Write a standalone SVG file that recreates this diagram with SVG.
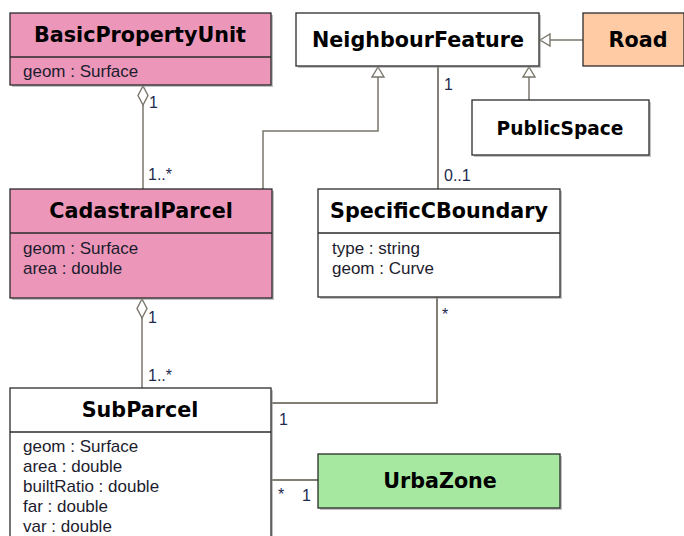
<svg xmlns="http://www.w3.org/2000/svg" width="684" height="536" viewBox="0 0 684 536">
<style>
.box{stroke:#2b2b2b;stroke-width:1.3}
.sh{fill:#9a9a9a;opacity:0.6}
.t{font-family:"DejaVu Sans",Verdana,sans-serif;font-weight:bold;font-size:20.7px;fill:#000;text-anchor:middle}
.a{font-family:"Liberation Sans",Arial,sans-serif;font-size:17px;fill:#1c1c2e}
.m{font-family:"Liberation Sans",Arial,sans-serif;font-size:16px;fill:#1c2a50}
.c{fill:none;stroke:#7a766c;stroke-width:1.5}
</style>
<rect width="684" height="536" fill="#fff"/>
<g id="connectors">
  <polyline class="c" points="143,105 143,189"/>
  <polygon points="143,86 148,95.5 143,105 138,95.5" fill="#fff" stroke="#7a766c" stroke-width="1.4"/>
  <polyline class="c" points="142,318 142,388"/>
  <polygon points="142,299 147,308.5 142,318 137,308.5" fill="#fff" stroke="#7a766c" stroke-width="1.4"/>
  <polyline class="c" points="263,189 263,131 378,131 378,77"/>
  <polygon points="378,67 384,77 372,77" fill="#fff" stroke="#7a766c" stroke-width="1.4"/>
  <polyline class="c" points="583,40 550,40"/>
  <polygon points="540,40 550,34 550,46" fill="#fff" stroke="#7a766c" stroke-width="1.4"/>
  <polyline class="c" points="529,100 529,77"/>
  <polygon points="529,67 535,77 523,77" fill="#fff" stroke="#7a766c" stroke-width="1.4"/>
  <polyline class="c" points="438,66 438,189" style="stroke:#5a5448"/>
  <polyline class="c" points="437,297 437,403 272,403" style="stroke:#5a5448"/>
  <polyline class="c" points="272,480 318,480" style="stroke:#5a5448"/>
  <text class="m" x="149" y="108">1</text>
  <text class="m" x="148" y="180">1..*</text>
  <text class="m" x="148" y="323">1</text>
  <text class="m" x="148" y="381">1..*</text>
  <text class="m" x="444" y="90">1</text>
  <text class="m" x="444" y="181">0..1</text>
  <text class="m" x="442" y="320">*</text>
  <text class="m" x="279" y="425">1</text>
  <text class="m" x="278" y="500">*</text>
  <text class="m" x="302" y="501">1</text>
</g>
<g id="BasicPropertyUnit">
  <rect class="sh" x="12" y="15" width="261" height="72"/>
  <rect class="box" x="10" y="13" width="261" height="72" fill="#EC97BA"/>
  <line class="box" x1="10" y1="57" x2="271" y2="57"/>
  <text class="t" x="140" y="42">BasicPropertyUnit</text>
  <text class="a" x="23" y="77">geom : Surface</text>
</g>
<g id="NeighbourFeature">
  <rect class="sh" x="298" y="15" width="243" height="53"/>
  <rect class="box" x="296" y="13" width="243" height="53" fill="#fff"/>
  <text class="t" x="418" y="47">NeighbourFeature</text>
</g>
<g id="Road">
  <rect class="box" x="583" y="13" width="101" height="53" fill="#FFCBA4"/>
  <text class="t" x="638" y="47">Road</text>
</g>
<g id="PublicSpace">
  <rect class="sh" x="474" y="102" width="177" height="55"/>
  <rect class="box" x="472" y="100" width="177" height="55" fill="#fff"/>
  <text class="t" x="560" y="135" style="font-size:18.6px">PublicSpace</text>
</g>
<g id="CadastralParcel">
  <rect class="sh" x="12" y="191" width="262" height="109"/>
  <rect class="box" x="10" y="189" width="262" height="109" fill="#EC97BA"/>
  <line class="box" x1="10" y1="233" x2="272" y2="233"/>
  <text class="t" x="141" y="218">CadastralParcel</text>
  <text class="a" x="23" y="254">geom : Surface</text>
  <text class="a" x="23" y="274">area : double</text>
</g>
<g id="SpecificCBoundary">
  <rect class="sh" x="320" y="191" width="242" height="108"/>
  <rect class="box" x="318" y="189" width="242" height="108" fill="#fff"/>
  <line class="box" x1="318" y1="233" x2="560" y2="233"/>
  <text class="t" x="439" y="218">SpecificCBoundary</text>
  <text class="a" x="332" y="254">type : string</text>
  <text class="a" x="332" y="274">geom : Curve</text>
</g>
<g id="SubParcel">
  <rect class="sh" x="12" y="390" width="261" height="150"/>
  <rect class="box" x="10" y="388" width="261" height="150" fill="#fff"/>
  <line class="box" x1="10" y1="432" x2="271" y2="432"/>
  <text class="t" x="140" y="417">SubParcel</text>
  <text class="a" x="23" y="452">geom : Surface</text>
  <text class="a" x="23" y="472">area : double</text>
  <text class="a" x="23" y="492">builtRatio : double</text>
  <text class="a" x="23" y="512">far : double</text>
  <text class="a" x="23" y="532">var : double</text>
</g>
<g id="UrbaZone">
  <rect class="sh" x="320" y="456" width="242" height="54"/>
  <rect class="box" x="318" y="454" width="242" height="54" fill="#A6E8A0"/>
  <text class="t" x="440" y="488">UrbaZone</text>
</g>
</svg>
